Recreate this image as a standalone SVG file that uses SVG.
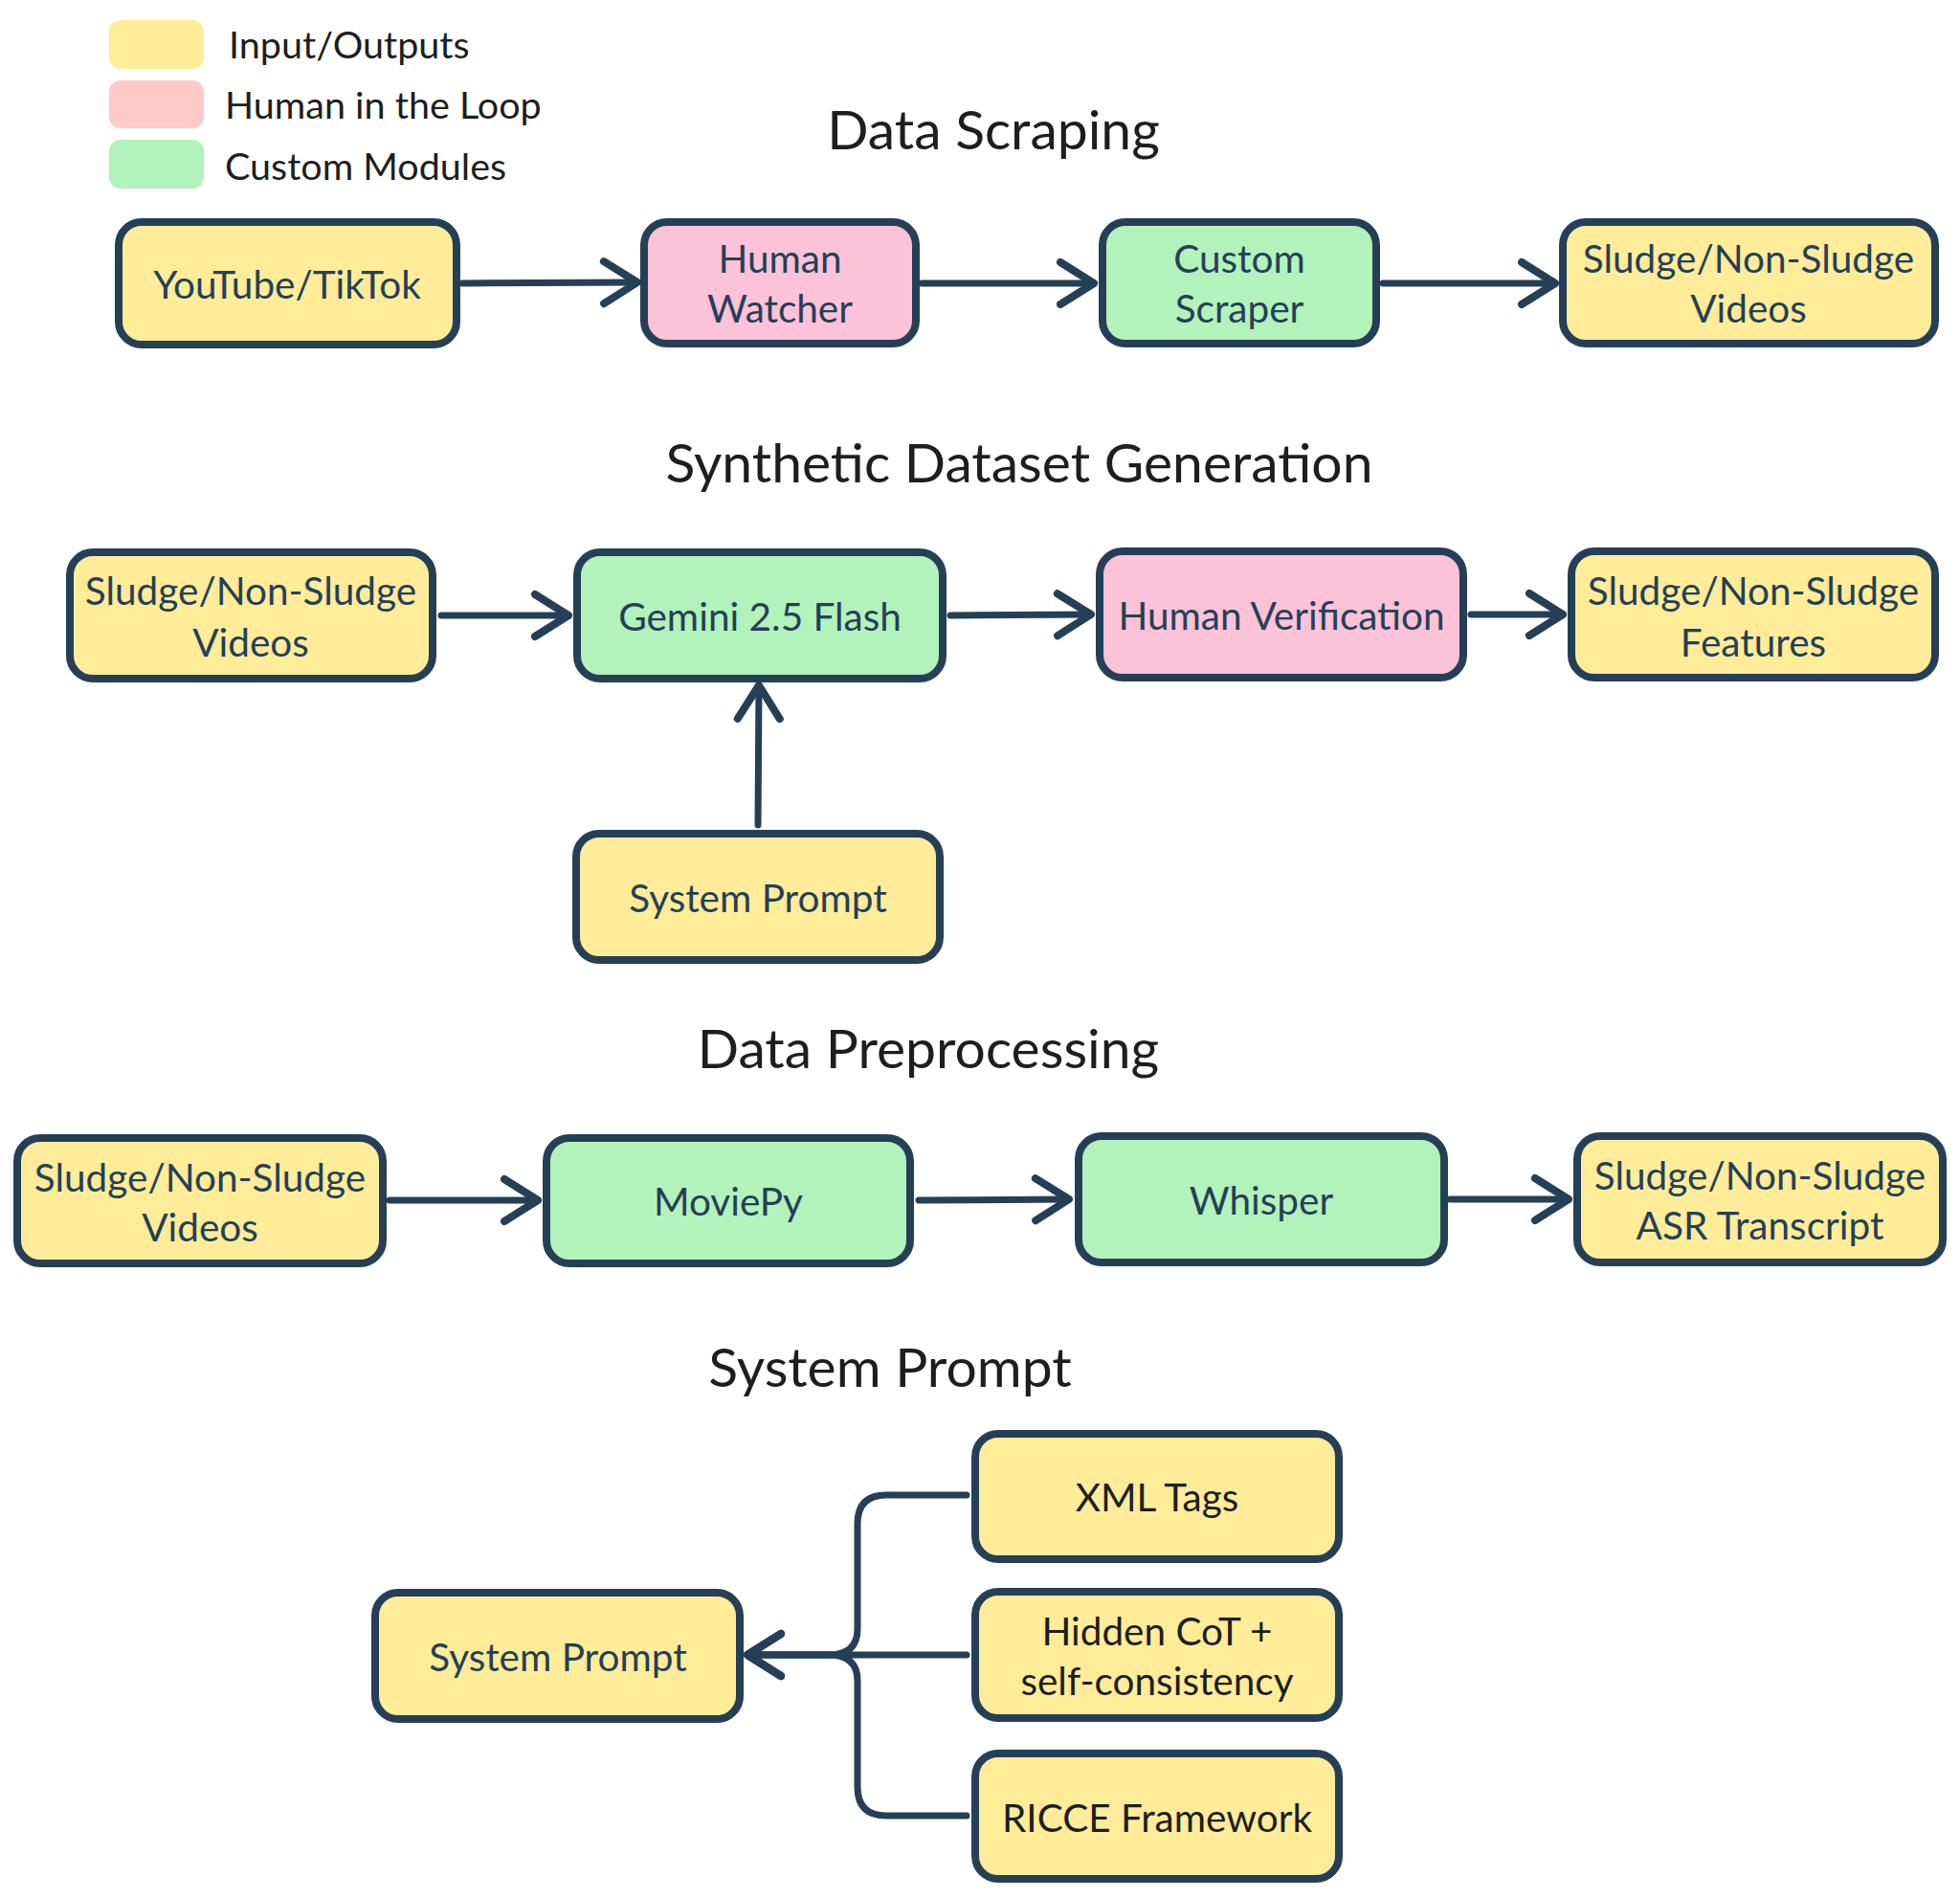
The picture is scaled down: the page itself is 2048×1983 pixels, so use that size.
<svg xmlns="http://www.w3.org/2000/svg" width="2048" height="1983" viewBox="0 0 2048 1983">
<style>
.n{stroke:#253f57;stroke-width:8;}
.y{fill:#ffec99;}.p{fill:#fcc2d7;}.g{fill:#b2f2bb;}
.t{font-family:Lato,"Noto Sans",sans-serif;font-size:40.5px;fill:#253f57;text-anchor:middle;dominant-baseline:central;}
.k{fill:#1e1e1e;}
.h{font-family:Lato,"Noto Sans",sans-serif;font-size:57px;fill:#1e1e1e;text-anchor:middle;dominant-baseline:central;}
.l{font-family:Lato,"Noto Sans",sans-serif;font-size:39.5px;fill:#1e1e1e;dominant-baseline:central;}
.c{fill:none;stroke:#253f57;stroke-width:7;stroke-linecap:round;stroke-linejoin:round;}
</style>
<defs>
<marker id="a" markerUnits="userSpaceOnUse" markerWidth="60" markerHeight="60" viewBox="-40 -30 50 60" refX="0" refY="0" orient="auto">
<path d="M-35 -22 L0 0 L-35 22" fill="none" stroke="#253f57" stroke-width="8" stroke-linecap="round" stroke-linejoin="round"/>
</marker>
</defs>
<rect width="2048" height="1983" fill="#ffffff"/>
<g id="legend">
<rect x="114" y="21" width="99" height="51" rx="12" fill="#ffec99"/>
<rect x="114" y="84" width="99" height="50" rx="12" fill="#ffc9c9"/>
<rect x="114" y="146" width="99" height="51" rx="12" fill="#b2f2bb"/>
<text class="l" x="239" y="45">Input/Outputs</text>
<text class="l" x="235" y="108">Human in the Loop</text>
<text class="l" x="235" y="172">Custom Modules</text>
</g>
<g id="titles">
<text class="h" x="1038" y="134">Data Scraping</text>
<text class="h" x="1065" y="482">Synthetic Dataset Generation</text>
<text class="h" x="970" y="1094">Data Preprocessing</text>
<text class="h" x="930" y="1427">System Prompt</text>
</g>
<g id="connectors">
<path class="c" d="M483 296 L666 295" marker-end="url(#a)"/>
<path class="c" d="M963 296 L1143 296" marker-end="url(#a)"/>
<path class="c" d="M1445 296 L1625 296" marker-end="url(#a)"/>
<path class="c" d="M461 643 L594 643" marker-end="url(#a)"/>
<path class="c" d="M993 643 L1140 642" marker-end="url(#a)"/>
<path class="c" d="M1537 642 L1633 642" marker-end="url(#a)"/>
<path class="c" d="M792 862 L793 716" marker-end="url(#a)"/>
<path class="c" d="M407 1254 L562 1254" marker-end="url(#a)"/>
<path class="c" d="M960 1254 L1117 1253" marker-end="url(#a)"/>
<path class="c" d="M1515 1253 L1639 1253" marker-end="url(#a)"/>
<path class="c" d="M1010 1562 H926 Q896 1562 896 1592 V1702 Q896 1729 866 1729 H781" marker-end="url(#a)"/>
<path class="c" d="M1010 1729 H781" marker-end="url(#a)"/>
<path class="c" d="M1010 1897 H926 Q896 1897 896 1867 V1756 Q896 1729 866 1729 H781" marker-end="url(#a)"/>
</g>
<g id="youtube"><rect class="n y" x="124" y="232" width="353" height="128" rx="24"/><text class="t" x="300" y="296">YouTube/TikTok</text></g>
<g id="human-watcher"><rect class="n p" x="673" y="232" width="284" height="127" rx="24"/><text class="t" x="815" y="269">Human</text><text class="t" x="815" y="321">Watcher</text></g>
<g id="custom-scraper"><rect class="n g" x="1152" y="232" width="286" height="127" rx="24"/><text class="t" x="1295" y="269">Custom</text><text class="t" x="1295" y="321">Scraper</text></g>
<g id="videos-1"><rect class="n y" x="1633" y="232" width="389" height="127" rx="24"/><text class="t" x="1827" y="269">Sludge/Non-Sludge</text><text class="t" x="1827" y="321">Videos</text></g>
<g id="videos-2"><rect class="n y" x="73" y="577" width="379" height="132" rx="24"/><text class="t" x="262" y="616">Sludge/Non-Sludge</text><text class="t" x="262" y="670">Videos</text></g>
<g id="gemini"><rect class="n g" x="603" y="577" width="382" height="132" rx="24"/><text class="t" x="794" y="643">Gemini 2.5 Flash</text></g>
<g id="human-verification"><rect class="n p" x="1149" y="576" width="380" height="132" rx="24"/><text class="t" x="1339" y="642">Human Verification</text></g>
<g id="features"><rect class="n y" x="1642" y="576" width="380" height="132" rx="24"/><text class="t" x="1832" y="616">Sludge/Non-Sludge</text><text class="t" x="1832" y="670">Features</text></g>
<g id="system-prompt-1"><rect class="n y" x="602" y="871" width="380" height="132" rx="24"/><text class="t" x="792" y="937">System Prompt</text></g>
<g id="videos-3"><rect class="n y" x="18" y="1189" width="382" height="131" rx="24"/><text class="t" x="209" y="1229">Sludge/Non-Sludge</text><text class="t" x="209" y="1281">Videos</text></g>
<g id="moviepy"><rect class="n g" x="571" y="1189" width="380" height="131" rx="24"/><text class="t" x="761" y="1254">MoviePy</text></g>
<g id="whisper"><rect class="n g" x="1127" y="1187" width="382" height="132" rx="24"/><text class="t" x="1318" y="1253">Whisper</text></g>
<g id="asr"><rect class="n y" x="1648" y="1187" width="382" height="132" rx="24"/><text class="t" x="1839" y="1227">Sludge/Non-Sludge</text><text class="t" x="1839" y="1279">ASR Transcript</text></g>
<g id="system-prompt-2"><rect class="n y" x="392" y="1664" width="381" height="132" rx="24"/><text class="t" x="583" y="1730">System Prompt</text></g>
<g id="xml-tags"><rect class="n y" x="1019" y="1498" width="380" height="131" rx="24"/><text class="t k" x="1209" y="1563">XML Tags</text></g>
<g id="hidden-cot"><rect class="n y" x="1019" y="1663" width="380" height="132" rx="24"/><text class="t k" x="1209" y="1703">Hidden CoT +</text><text class="t k" x="1209" y="1755">self-consistency</text></g>
<g id="ricce"><rect class="n y" x="1019" y="1832" width="380" height="131" rx="24"/><text class="t k" x="1209" y="1898">RICCE Framework</text></g>
</svg>
